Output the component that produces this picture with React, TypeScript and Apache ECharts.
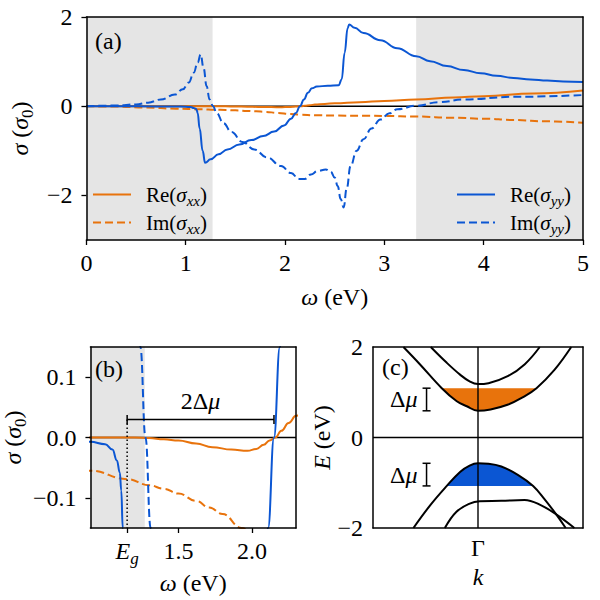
import React, { useEffect, useRef } from 'react';
import * as echarts from 'echarts';

const FONT = '"Liberation Serif", serif';
const ORANGE = '#e8730c';
const BLUE = '#0b56d3';
const GREY = '#e5e5e5';

// Shaded spectral windows in (a) and the 2Δμ bracket in (b)
const gapLow = 1.27;
const gapHigh = 3.32;
const Eg = 1.15;
const deltaMu = 0.5;

// ω (eV) vs σ (σ0)
const reSxx: [number, number][] = [
  [0, 0], [0.6, 0], [1.0, 0], [1.2, 0], [1.3, -0.001], [1.4, -0.003], [1.5, -0.005],
  [1.62, -0.01], [1.73, -0.016], [1.86, -0.02], [1.97, -0.022], [2.03, -0.019],
  [2.08, -0.012], [2.12, -0.005], [2.16, 0.0], [2.2, 0.011], [2.25, 0.024], [2.3, 0.036],
  [2.4, 0.052], [2.5, 0.064], [2.75, 0.09], [3.0, 0.117], [3.32, 0.152], [3.7, 0.195],
  [4.0, 0.225], [4.5, 0.285], [5.0, 0.35],
];
const imSxx: [number, number][] = [
  [0, 0], [0.3, -0.008], [0.6, -0.028], [0.9, -0.055], [1.15, -0.069], [1.3, -0.079],
  [1.4, -0.085], [1.5, -0.093], [1.62, -0.105], [1.71, -0.116], [1.8, -0.127],
  [1.93, -0.15], [2.05, -0.173], [2.15, -0.19], [2.3, -0.203], [2.5, -0.21], [2.8, -0.215],
  [3.0, -0.218], [3.32, -0.232], [3.7, -0.26], [4.0, -0.28], [4.3, -0.31], [4.65, -0.34],
  [5.0, -0.37],
];
const reSyy: [number, number][] = [
  [0, 0], [0.5, -0.002], [0.9, -0.007], [1.0, -0.011], [1.05, -0.02], [1.08, -0.038],
  [1.1, -0.058], [1.11, -0.088], [1.12, -0.15], [1.14, -0.5], [1.17, -1.0], [1.195, -1.27],
  [1.25, -1.19], [1.33, -1.08], [1.42, -0.97], [1.54, -0.86], [1.66, -0.76], [1.78, -0.67],
  [1.89, -0.57], [1.99, -0.43], [2.06, -0.28], [2.11, -0.15], [2.15, 0.0], [2.19, 0.15],
  [2.23, 0.3], [2.27, 0.4], [2.32, 0.44], [2.43, 0.46], [2.54, 0.47], [2.57, 0.6],
  [2.6, 1.2], [2.63, 1.75], [2.645, 1.83], [2.7, 1.76], [2.79, 1.64], [2.96, 1.48],
  [3.13, 1.3], [3.32, 1.12], [3.46, 1.01], [3.63, 0.9], [3.8, 0.81], [3.97, 0.74],
  [4.13, 0.68], [4.3, 0.635], [4.47, 0.6], [4.64, 0.575], [4.8, 0.555], [5.0, 0.54],
];
const imSyy: [number, number][] = [
  [0, 0], [0.3, 0.015], [0.5, 0.04], [0.62, 0.08], [0.75, 0.15], [0.89, 0.26], [0.97, 0.38],
  [1.03, 0.53], [1.08, 0.75], [1.12, 0.98], [1.15, 1.16], [1.18, 0.85], [1.21, 0.45],
  [1.24, 0.15], [1.275, 0.0], [1.31, -0.15], [1.38, -0.38], [1.46, -0.58], [1.57, -0.8],
  [1.69, -0.97], [1.82, -1.15], [1.96, -1.34], [2.06, -1.5], [2.14, -1.63], [2.2, -1.63],
  [2.26, -1.53], [2.33, -1.45], [2.41, -1.42], [2.46, -1.47], [2.5, -1.6], [2.53, -1.79],
  [2.56, -2.08], [2.59, -2.27], [2.62, -1.85], [2.66, -1.34], [2.72, -1.0], [2.79, -0.74],
  [2.87, -0.5], [2.96, -0.3], [3.05, -0.16], [3.13, -0.07], [3.32, 0.01], [3.55, 0.09],
  [3.8, 0.15], [4.3, 0.21], [5.0, 0.25],
];

// Band structure E(k), Γ at k = 0
const cbLower: [number, number][] = [
  [-0.71, 2.0], [-0.554, 1.62], [-0.345, 1.09], [-0.202, 0.8], [-0.107, 0.69], [0, 0.59],
  [0.12, 0.62], [0.288, 0.73], [0.42, 0.88], [0.557, 1.09], [0.73, 1.5], [0.888, 2.0],
];
const cbUpper: [number, number][] = [
  [-0.45, 2.0], [-0.297, 1.65], [-0.171, 1.39], [-0.08, 1.24], [0, 1.18], [0.1, 1.2],
  [0.288, 1.36], [0.446, 1.62], [0.588, 2.0],
];
const vbUpper: [number, number][] = [
  [-0.615, -2.0], [-0.456, -1.5], [-0.297, -1.07], [-0.171, -0.76], [-0.08, -0.62],
  [0, -0.57], [0.1, -0.58], [0.222, -0.64], [0.383, -0.83], [0.525, -1.07], [0.633, -1.36],
  [0.745, -1.7], [0.835, -2.0],
];
const vbLower: [number, number][] = [
  [-0.316, -2.0], [-0.205, -1.64], [-0.079, -1.46], [0.016, -1.41], [0.222, -1.4],
  [0.443, -1.38], [0.602, -1.5], [0.745, -1.7], [0.918, -2.0],
];
const muC = 1.09;
const muV = -1.07;
const kBar = -0.49;

// tick values
const aXTicks = [0, 1, 2, 3, 4, 5];
const aYTicks = [-2, 0, 2];
const bXTicks = [Eg, 1.5, 2.0];
const bYTicks = [-0.1, 0, 0.1];
const cYTicks = [-2, 0, 2];

const makeRich = (size: number) => {
  const sub = Math.round(size * 0.7);
  const drop = Math.round(size * 0.45);
  return {
    n: { fontFamily: FONT, fontSize: size, lineHeight: size, verticalAlign: 'top', color: '#000' },
    i: { fontFamily: FONT, fontSize: size, lineHeight: size, verticalAlign: 'top', color: '#000', fontStyle: 'italic' },
    s: { fontFamily: FONT, fontSize: sub, lineHeight: sub, padding: [drop, 0, 0, 0], verticalAlign: 'top', color: '#000', fontStyle: 'italic' },
    u: { fontFamily: FONT, fontSize: sub, lineHeight: sub, padding: [drop, 0, 0, 0], verticalAlign: 'top', color: '#000' },
  };
};
const richMain = makeRich(24);
const richLegend = makeRich(21);

const minus = (s: string) => s.replace('-', '\u2212');
const sigmaName = '{i|σ}{n| (}{i|σ}{u|0}{n|)}';

const lineStyleAxis = { color: '#000', width: 1.5 };
const tickStyle = { color: '#000', width: 1.3 };

const valueAxis = (gridIndex: number, min: number, max: number, position: string, ticks: number[],
  fmt: (v: number) => string, margin: number, showTicks: boolean, name: string, nameGap: number) => ({
  gridIndex,
  type: 'value',
  min,
  max,
  position,
  z: 10,
  axisLine: { show: true, onZero: false, lineStyle: lineStyleAxis },
  axisTick: { show: showTicks, length: 5, lineStyle: tickStyle, customValues: ticks },
  axisLabel: { margin, customValues: ticks, fontFamily: FONT, fontSize: 24, color: '#000', rich: richMain, formatter: (v: number) => fmt(v) },
  splitLine: { show: false },
  name,
  nameGap,
  nameLocation: 'middle',
  nameTextStyle: { fontFamily: FONT, fontSize: 24, color: '#000', rich: richMain },
});

const frameAxis = (gridIndex: number, min: number, max: number, position: string) => ({
  gridIndex,
  type: 'value',
  min,
  max,
  position,
  z: 10,
  axisLine: { show: true, onZero: false, lineStyle: lineStyleAxis },
  axisTick: { show: false },
  axisLabel: { show: false },
  splitLine: { show: false },
});

// grid g uses axis index 2g (bottom/left); 2g+1 are the frame axes
const curve = (name: string, data: [number, number][], color: string, dashed: boolean, ai: number) => ({
  name,
  type: 'line',
  xAxisIndex: ai,
  yAxisIndex: ai,
  data,
  symbol: 'none',
  smooth: 0.45,
  smoothMonotone: 'x',
  clip: true,
  silent: true,
  z: 3,
  lineStyle: { color, width: 2, type: dashed ? [8, 4] : 'solid' },
  itemStyle: { color },
});

const band = (data: [number, number][]) => ({
  type: 'line',
  xAxisIndex: 4,
  yAxisIndex: 4,
  data,
  symbol: 'none',
  smooth: 0.4,
  clip: true,
  silent: true,
  z: 3,
  lineStyle: { color: '#000', width: 2 },
});

const legendFormatter = (name: string) => {
  const m = name.match(/^(Re|Im)\(σ(\w+)\)$/);
  if (!m) return name;
  return `{n|${m[1]}(}{i|σ}{s|${m[2]}}{n|)}`;
};

const legendBase = {
  orient: 'vertical',
  top: 184,
  padding: 0,
  itemWidth: 38,
  itemHeight: 14,
  itemGap: 4,
  selectedMode: false,
  formatter: legendFormatter,
  itemStyle: { opacity: 0 },
  textStyle: { fontFamily: FONT, fontSize: 21, rich: richLegend, padding: [0, 0, 0, 10] },
};

const num = (v: number) => `{n|${minus(String(v))}}`;
const panelLabel = (text: string, left: number, top: number) => ({
  type: 'text', left, top, z: 100, style: { text, font: `24px ${FONT}`, fill: '#000' },
});

const buildOption = () => ({
  animation: false,
  textStyle: { fontFamily: FONT },
  grid: [
    { left: 85, top: 17, width: 498, height: 223 },
    { left: 85, top: 347, width: 211, height: 181 },
    { left: 373, top: 347, width: 210, height: 181 },
  ],
  xAxis: [
    valueAxis(0, 0, 5, 'bottom', aXTicks, num, 11, true, '{i|ω}{n| (eV)}', 45),
    frameAxis(0, 0, 5, 'top'),
    valueAxis(1, 0.9, 2.3, 'bottom', bXTicks,
      (v) => (Math.abs(v - Eg) < 1e-6 ? '{i|E}{s|g}' : `{n|${v.toFixed(1)}}`), 11, true, '{i|ω}{n| (eV)}', 43),
    frameAxis(1, 0.9, 2.3, 'top'),
    valueAxis(2, -1, 1, 'bottom', [0], () => '{n|Γ}', 8, false, '{i|k}', 37),
    frameAxis(2, -1, 1, 'top'),
  ],
  yAxis: [
    valueAxis(0, -3, 2, 'left', aYTicks, num, 14, true, sigmaName, 53),
    frameAxis(0, -3, 2, 'right'),
    valueAxis(1, -0.15, 0.15, 'left', bYTicks, (v) => `{n|${minus(v.toFixed(1))}}`, 14, true, sigmaName, 53),
    frameAxis(1, -0.15, 0.15, 'right'),
    valueAxis(2, -2, 2, 'left', cYTicks, num, 10, false, '{i|E}{n| (eV)}', 36),
    frameAxis(2, -2, 2, 'right'),
  ],
  legend: [
    { ...legendBase, left: 92, data: ['Re(σxx)', 'Im(σxx)'] },
    { ...legendBase, left: 456, data: ['Re(σyy)', 'Im(σyy)'] },
  ],
  graphic: [
    panelLabel('(a)', 95, 29),
    panelLabel('(b)', 95, 357),
    panelLabel('(c)', 382, 355),
  ],
  series: [
    // (a) zero line and shaded windows
    {
      type: 'line', xAxisIndex: 0, yAxisIndex: 0, data: [[0, 0], [5, 0]], symbol: 'none', silent: true, z: 2,
      lineStyle: { color: '#000', width: 1.4 },
      markArea: {
        silent: true, itemStyle: { color: GREY },
        data: [[{ xAxis: 0 }, { xAxis: gapLow }], [{ xAxis: gapHigh }, { xAxis: 5 }]],
      },
    },
    curve('Re(σxx)', reSxx, ORANGE, false, 0),
    curve('Im(σxx)', imSxx, ORANGE, true, 0),
    curve('Re(σyy)', reSyy, BLUE, false, 0),
    curve('Im(σyy)', imSyy, BLUE, true, 0),
    // (b) zoom near the gap
    {
      type: 'line', xAxisIndex: 2, yAxisIndex: 2, data: [[0.9, 0], [2.3, 0]], symbol: 'none', silent: true, z: 2,
      lineStyle: { color: '#000', width: 1.4 },
      markArea: { silent: true, itemStyle: { color: GREY }, data: [[{ xAxis: 0.9 }, { xAxis: gapLow }]] },
    },
    curve('Re(σxx)', reSxx, ORANGE, false, 2),
    curve('Im(σxx)', imSxx, ORANGE, true, 2),
    curve('Re(σyy)', reSyy, BLUE, false, 2),
    curve('Im(σyy)', imSyy, BLUE, true, 2),
    {
      type: 'custom', xAxisIndex: 2, yAxisIndex: 2, silent: true, z: 4,
      data: [[Eg, Eg + 2 * deltaMu, 0.03, -0.15]],
      encode: { x: [0, 1], y: [2, 3] },
      renderItem: (_p: any, api: any) => {
        const a = api.coord([api.value(0), api.value(2)]);
        const b = api.coord([api.value(1), api.value(2)]);
        const d = api.coord([api.value(0), api.value(3)]);
        const st = { stroke: '#000', lineWidth: 1.5 };
        return {
          type: 'group',
          children: [
            { type: 'line', shape: { x1: a[0], y1: a[1], x2: d[0], y2: d[1] }, style: { stroke: '#000', lineWidth: 1.5, lineDash: [1.5, 2.5] } },
            { type: 'line', shape: { x1: a[0], y1: a[1], x2: b[0], y2: b[1] }, style: st },
            { type: 'line', shape: { x1: a[0], y1: a[1] - 4.5, x2: a[0], y2: a[1] + 4.5 }, style: st },
            { type: 'line', shape: { x1: b[0], y1: b[1] - 4.5, x2: b[0], y2: b[1] + 4.5 }, style: st },
            {
              type: 'text', x: (a[0] + b[0]) / 2, y: a[1] - 6,
              style: { text: '{n|2Δ}{i|μ}', rich: richMain, align: 'center', verticalAlign: 'bottom' },
            },
          ],
        };
      },
    },
    // (c) band structure
    {
      type: 'line', xAxisIndex: 4, yAxisIndex: 4, data: cbLower.filter((p) => p[1] <= muC),
      symbol: 'none', smooth: 0.4, silent: true, z: 1,
      lineStyle: { width: 0 }, areaStyle: { color: ORANGE, opacity: 1, origin: muC },
    },
    {
      type: 'line', xAxisIndex: 4, yAxisIndex: 4, data: vbUpper.filter((p) => p[1] >= muV),
      symbol: 'none', smooth: 0.4, silent: true, z: 1,
      lineStyle: { width: 0 }, areaStyle: { color: BLUE, opacity: 1, origin: muV },
    },
    { type: 'line', xAxisIndex: 4, yAxisIndex: 4, data: [[-1, 0], [1, 0]], symbol: 'none', silent: true, z: 2, lineStyle: { color: '#000', width: 1.4 } },
    { type: 'line', xAxisIndex: 4, yAxisIndex: 4, data: [[0, -2], [0, 2]], symbol: 'none', silent: true, z: 2, lineStyle: { color: '#000', width: 1.4 } },
    band(cbLower),
    band(cbUpper),
    band(vbUpper),
    band(vbLower),
    {
      type: 'custom', xAxisIndex: 4, yAxisIndex: 4, silent: true, z: 4,
      data: [
        [kBar, Math.min(...cbLower.map((p) => p[1])), muC],
        [kBar, muV, Math.max(...vbUpper.map((p) => p[1]))],
      ],
      encode: { x: 0, y: [1, 2] },
      renderItem: (_p: any, api: any) => {
        const a = api.coord([api.value(0), api.value(1)]);
        const b = api.coord([api.value(0), api.value(2)]);
        const st = { stroke: '#000', lineWidth: 1.5 };
        return {
          type: 'group',
          children: [
            { type: 'line', shape: { x1: a[0], y1: a[1], x2: b[0], y2: b[1] }, style: st },
            { type: 'line', shape: { x1: a[0] - 4, y1: a[1], x2: a[0] + 4, y2: a[1] }, style: st },
            { type: 'line', shape: { x1: b[0] - 4, y1: b[1], x2: b[0] + 4, y2: b[1] }, style: st },
            {
              type: 'text', x: a[0] - 9, y: (a[1] + b[1]) / 2,
              style: { text: '{n|Δ}{i|μ}', rich: richMain, align: 'right', verticalAlign: 'middle' },
            },
          ],
        };
      },
    },
  ],
});

export default function App() {
  const ref = useRef<HTMLDivElement>(null);
  useEffect(() => {
    if (!ref.current) return;
    const chart = echarts.init(ref.current, undefined, { renderer: 'svg' });
    chart.setOption(buildOption() as any);
    return () => chart.dispose();
  }, []);
  return <div ref={ref} style={{ position: 'fixed', left: 0, top: 0, width: 600, height: 600, background: '#fff' }} />;
}
